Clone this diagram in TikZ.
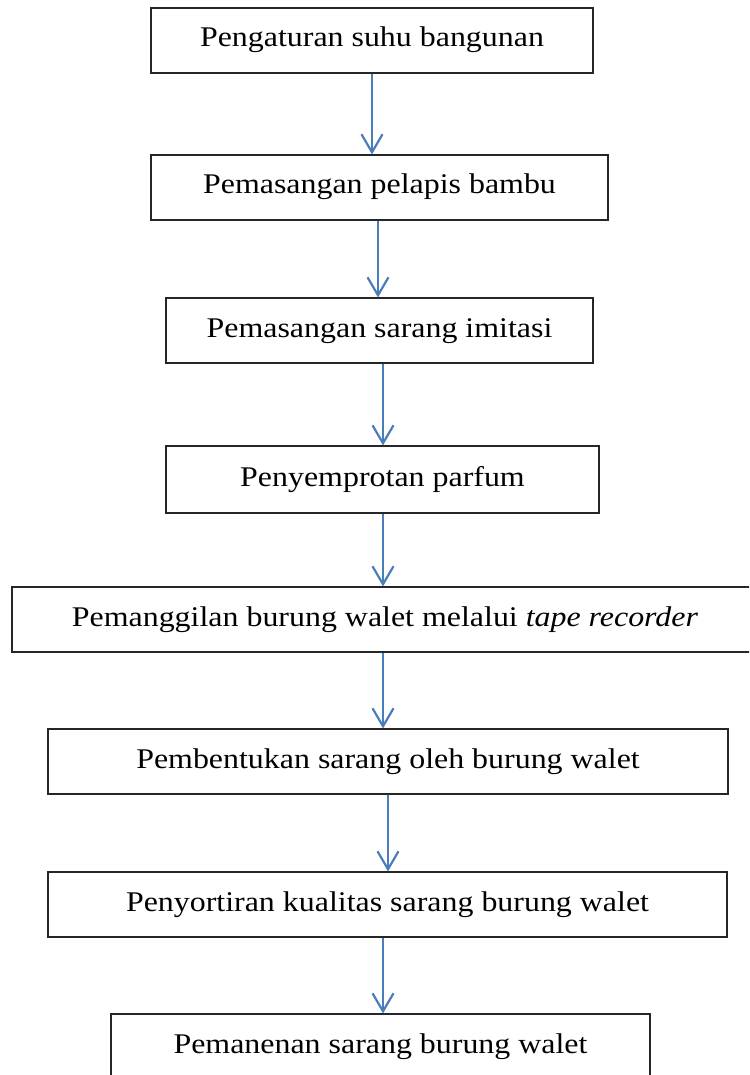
\documentclass[tikz,border=0pt]{standalone}
\usepackage{fontspec}
\setmainfont[FakeStretch=1.12]{Liberation Serif}
\usetikzlibrary{arrows.meta}
\definecolor{arrowblue}{RGB}{74,126,187}
\tikzset{
  stepbox/.style={draw=black!85, line width=1.1pt, rectangle, inner sep=0pt,
    text height=20pt, text depth=7pt, font=\fontsize{28.5}{34}\selectfont},
  flowarrow/.style={draw=arrowblue, line width=2.2pt,
    -{Straight Barb[length=18pt,width=21pt,line width=2.2pt]}}
}
\begin{document}
\begin{tikzpicture}[x=1pt,y=-1pt]
\useasboundingbox (0,0) rectangle (749,1075);
\begin{scope}
\clip (0,0) rectangle (749,1075);
\node[stepbox, minimum width=442pt, minimum height=65pt] (b1) at (372,40.5) {Pengaturan suhu bangunan};
\node[stepbox, minimum width=457pt, minimum height=65pt] (b2) at (379.5,187.5) {Pemasangan pelapis bambu};
\node[stepbox, minimum width=427pt, minimum height=65pt] (b3) at (379.5,330.5) {Pemasangan sarang imitasi};
\node[stepbox, minimum width=433pt, minimum height=67pt] (b4) at (382.5,479.5) {Penyemprotan parfum};
\node[stepbox, minimum width=746pt, minimum height=65pt] (b5) at (385,619.5) {Pemanggilan burung walet melalui \textit{tape recorder}};
\node[stepbox, minimum width=680pt, minimum height=65pt] (b6) at (388,761.5) {Pembentukan sarang oleh burung walet};
\node[stepbox, minimum width=679pt, minimum height=65pt] (b7) at (387.5,904.5) {Penyortiran kualitas sarang burung walet};
\node[stepbox, minimum width=539pt, minimum height=65pt] (b8) at (380.5,1046.5) {Pemanenan sarang burung walet};
\end{scope}
\draw[flowarrow] (b1.south) -- (b1.south |- b2.north);
\draw[flowarrow] ([xshift=-1.5pt]b2.south) -- ([xshift=-1.5pt]b2.south |- b3.north);
\draw[flowarrow] ([xshift=3.5pt]b3.south) -- ([xshift=3.5pt]b3.south |- b4.north);
\draw[flowarrow] ([xshift=0.5pt]b4.south) -- ([xshift=0.5pt]b4.south |- b5.north);
\draw[flowarrow] ([xshift=-2pt]b5.south) -- ([xshift=-2pt]b5.south |- b6.north);
\draw[flowarrow] (b6.south) -- (b6.south |- b7.north);
\draw[flowarrow] ([xshift=-4.5pt]b7.south) -- ([xshift=-4.5pt]b7.south |- b8.north);
\end{tikzpicture}
\end{document}
